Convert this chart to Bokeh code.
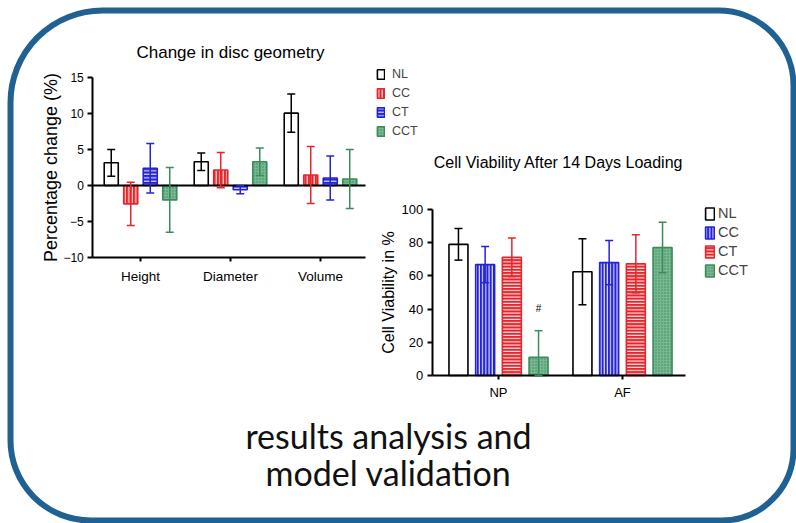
from bokeh.plotting import figure
from bokeh.models import (Range1d, LinearAxis, FixedTicker, Whisker, TeeHead,
                          ColumnDataSource, Legend, LegendItem, BoxAnnotation)
from bokeh.core.properties import value
from bokeh.embed import file_html
from bokeh.resources import INLINE

# ---------------- data ----------------
geo_title = "Change in disc geometry"
geo_ylabel = "Percentage change (%)"
geo_categories = ["Height", "Diameter", "Volume"]
geo_series = ["NL", "CC", "CT", "CCT"]
geo_nl = [3.15, 3.3, 10.05]
geo_nl_err = [1.85, 1.2, 2.65]
geo_cc = [-2.55, 2.15, 1.45]
geo_cc_err = [3.0, 2.45, 3.95]
geo_ct = [2.4, -0.6, 1.05]
geo_ct_err = [3.45, 0.55, 3.05]
geo_cct = [-2.0, 3.3, 0.9]
geo_cct_err = [4.5, 1.9, 4.1]
geo_ticks = [-10, -5, 0, 5, 10, 15]

via_title = "Cell Viability After 14 Days Loading"
via_ylabel = "Cell Viability in %"
via_categories = ["NP", "AF"]
via_series = ["NL", "CC", "CT", "CCT"]
via_nl = [79.0, 62.5]
via_nl_err = [9.5, 19.9]
via_cc = [66.8, 68.0]
via_cc_err = [10.9, 13.3]
via_ct = [71.2, 67.3]
via_ct_err = [11.6, 17.5]
via_cct = [11.0, 77.1]
via_cct_err = [16.0, 15.2]
via_ticks = [0, 20, 40, 60, 80, 100]
via_marks = ["#"]
via_mark_group = [0]
via_mark_y = [40.5]

caption_lines = ["results analysis and", "model validation"]

# ---------------- layout helpers ----------------
W, H = 796, 523
FONT = "Liberation Sans"
RED = "#E5262C"
BLUE = "#2323D8"
GREEN = "#3B8C5B"
FRAME = "#1F6192"


def mapped_range(d0, p0, d1, p1, total):
    """Range over the whole canvas so that data d0 sits at pixel p0 and d1 at p1."""
    u = (d1 - d0) / (p1 - p0)
    a = d0 - p0 * u
    b = d0 + (total - p0) * u
    return a, b


p = figure(width=W, height=H, x_range=Range1d(0, W), y_range=Range1d(H, 0),
           x_axis_type=None, y_axis_type=None, toolbar_location=None, tools="",
           output_backend="svg", min_border=0, outline_line_color=None,
           background_fill_color="white", border_fill_color="white")
p.grid.visible = False

gx0, gx1 = mapped_range(0, 140, 1, 230, W)
gy_top, gy_bot = mapped_range(0, 185, 15, 77, H)
vx0, vx1 = mapped_range(0, 498, 1, 622, W)
vy_top, vy_bot = mapped_range(0, 375, 100, 209, H)
p.extra_x_ranges = {"gx": Range1d(gx0, gx1), "vx": Range1d(vx0, vx1)}
p.extra_y_ranges = {"gy": Range1d(gy_bot, gy_top), "vy": Range1d(vy_bot, vy_top)}


def style_axis(ax, tick_size, label_size, label_standoff, axis_label_standoff, tick_out=5):
    ax.axis_line_width = 2
    ax.axis_line_color = "black"
    ax.major_tick_line_width = 2
    ax.major_tick_line_color = "black"
    ax.major_tick_out = tick_out
    ax.major_tick_in = 0
    ax.minor_tick_out = 0
    ax.minor_tick_in = 0
    ax.major_label_text_font = FONT
    ax.major_label_text_font_size = tick_size
    ax.major_label_text_color = "black"
    ax.major_label_standoff = label_standoff
    ax.axis_label_text_font = FONT
    ax.axis_label_text_font_size = label_size
    ax.axis_label_text_font_style = "normal"
    ax.axis_label_text_color = "black"
    ax.axis_label_standoff = axis_label_standoff


STYLES = {
    "white_black": dict(fill_color="white", line_color="black", hatch_pattern=None),
    "red_v": dict(fill_color=RED, line_color=RED, hatch_pattern="vertical_line",
                  hatch_color="white", hatch_scale=3.5, hatch_weight=1),
    "red_h": dict(fill_color=RED, line_color=RED, hatch_pattern="horizontal_line",
                  hatch_color="white", hatch_scale=3.2, hatch_weight=1),
    "blue_v": dict(fill_color=BLUE, line_color=BLUE, hatch_pattern="vertical_line",
                   hatch_color="white", hatch_scale=3.2, hatch_weight=1),
    "blue_h": dict(fill_color=BLUE, line_color=BLUE, hatch_pattern="horizontal_line",
                   hatch_color="white", hatch_scale=3.5, hatch_weight=1),
    "green_dot": dict(fill_color="#78B891", line_color=GREEN, hatch_pattern="dot",
                      hatch_color="#3A8A58", hatch_scale=3, hatch_weight=1),
}


def grouped_bars(vals_list, errs_list, styles, xr, yr, pitch, width, clip_zero):
    renderers = []
    n = len(vals_list)
    for k, (vals, errs, sty) in enumerate(zip(vals_list, errs_list, styles)):
        off = (k - (n - 1) / 2) * pitch
        xs = [i + off for i in range(len(vals))]
        st = dict(STYLES[sty])
        hp = st.pop("hatch_pattern")
        kw = dict(fill_color=st.pop("fill_color"), line_color=st.pop("line_color"))
        if hp:
            kw.update(hatch_pattern=hp, **st)
        r = p.vbar(x=xs, top=vals, bottom=0, width=width, line_width=1.6,
                   x_range_name=xr, y_range_name=yr, **kw)
        renderers.append(r)
        lower = [v - e for v, e in zip(vals, errs)]
        if clip_zero:
            lower = [max(0, l) for l in lower]
        src = ColumnDataSource(dict(x=xs, upper=[v + e for v, e in zip(vals, errs)],
                                    lower=lower))
        col = kw["line_color"]
        wsk = Whisker(source=src, base="x", upper="upper", lower="lower",
                      dimension="height", x_range_name=xr, y_range_name=yr,
                      line_color=col, line_width=1.5, level="overlay",
                      upper_head=TeeHead(size=8, line_color=col, line_width=1.5),
                      lower_head=TeeHead(size=8, line_color=col, line_width=1.5))
        p.add_layout(wsk)
    return renderers


# ---------------- left chart: disc geometry ----------------
g_left, g_right = -0.53, 2.5
geo_r = grouped_bars([geo_nl, geo_cc, geo_ct, geo_cct],
                     [geo_nl_err, geo_cc_err, geo_ct_err, geo_cct_err],
                     ["white_black", "red_v", "blue_h", "green_dot"],
                     "gx", "gy", pitch=0.2167, width=0.156, clip_zero=False)
p.segment(x0=[g_left], x1=[g_right], y0=[0], y1=[0], x_range_name="gx",
          y_range_name="gy", line_color="black", line_width=2)

gy_axis = LinearAxis(x_range_name="gx", y_range_name="gy", fixed_location=g_left,
                     bounds=(geo_ticks[0], geo_ticks[-1]),
                     ticker=FixedTicker(ticks=geo_ticks), axis_label=geo_ylabel)
style_axis(gy_axis, "12px", "18px", 4, -1)
p.add_layout(gy_axis, "left")

gx_axis = LinearAxis(x_range_name="gx", y_range_name="gy", fixed_location=geo_ticks[0],
                     bounds=(g_left, g_right),
                     ticker=FixedTicker(ticks=list(range(len(geo_categories)))),
                     major_label_overrides={i: c for i, c in enumerate(geo_categories)})
style_axis(gx_axis, "13.5px", "12px", 7, 0, tick_out=4)
p.add_layout(gx_axis, "below")

p.text(x=[230], y=[52], text=[geo_title], text_align="center", text_baseline="middle",
       text_font=value(FONT), text_font_size="17px", text_color="black")

geo_legend = Legend(items=[LegendItem(label=s, renderers=[r]) for s, r in zip(geo_series, geo_r)],
                    location=(376, 383), glyph_width=9, glyph_height=12, label_standoff=7,
                    label_height=19, spacing=0, padding=0, margin=0,
                    border_line_color=None, background_fill_alpha=0,
                    label_text_font=FONT, label_text_font_size="12.5px")
p.add_layout(geo_legend)

# ---------------- right chart: cell viability ----------------
v_left, v_right = -0.535, 1.508
via_r = grouped_bars([via_nl, via_cc, via_ct, via_cct],
                     [via_nl_err, via_cc_err, via_ct_err, via_cct_err],
                     ["white_black", "blue_v", "red_h", "green_dot"],
                     "vx", "vy", pitch=0.2153, width=0.153, clip_zero=True)

vy_axis = LinearAxis(x_range_name="vx", y_range_name="vy", fixed_location=v_left,
                     bounds=(via_ticks[0], via_ticks[-1]),
                     ticker=FixedTicker(ticks=via_ticks), axis_label=via_ylabel)
style_axis(vy_axis, "13px", "16px", 4, 2)
p.add_layout(vy_axis, "left")

vx_axis = LinearAxis(x_range_name="vx", y_range_name="vy", fixed_location=via_ticks[0],
                     bounds=(v_left, v_right),
                     ticker=FixedTicker(ticks=list(range(len(via_categories)))),
                     major_label_overrides={i: c for i, c in enumerate(via_categories)})
style_axis(vx_axis, "13px", "12px", 5, 0, tick_out=4)
p.add_layout(vx_axis, "below")

p.text(x=[g + 1.5 * 0.2153 for g in via_mark_group], y=via_mark_y, text=via_marks,
       x_range_name="vx", y_range_name="vy", text_align="center", text_baseline="middle",
       text_font=value(FONT), text_font_size="10px", text_color="black")

p.text(x=[558], y=[162], text=[via_title], text_align="center", text_baseline="middle",
       text_font=value(FONT), text_font_size="16px", text_color="black")

via_legend = Legend(items=[LegendItem(label=s, renderers=[r]) for s, r in zip(via_series, via_r)],
                    location=(704, 244), glyph_width=11, glyph_height=15, label_standoff=3,
                    label_height=18, spacing=1, padding=0, margin=0,
                    border_line_color=None, background_fill_alpha=0,
                    label_text_font=FONT, label_text_font_size="14.5px")
p.add_layout(via_legend)

# ---------------- caption and frame ----------------
p.text(x=[388, 388], y=[435, 472], text=caption_lines, text_align="center",
       text_baseline="middle", text_font=value("Lato"), text_font_size="34px",
       text_color="#111111")

frame = BoxAnnotation(left=10, right=793, top=10, bottom=520, fill_alpha=0,
                      line_color=FRAME, line_alpha=1.0, line_width=6,
                      border_radius=dict(top_left=92, top_right=75, bottom_right=72, bottom_left=80))
p.add_layout(frame)

open("out.html", "w").write(file_html(p, INLINE))
